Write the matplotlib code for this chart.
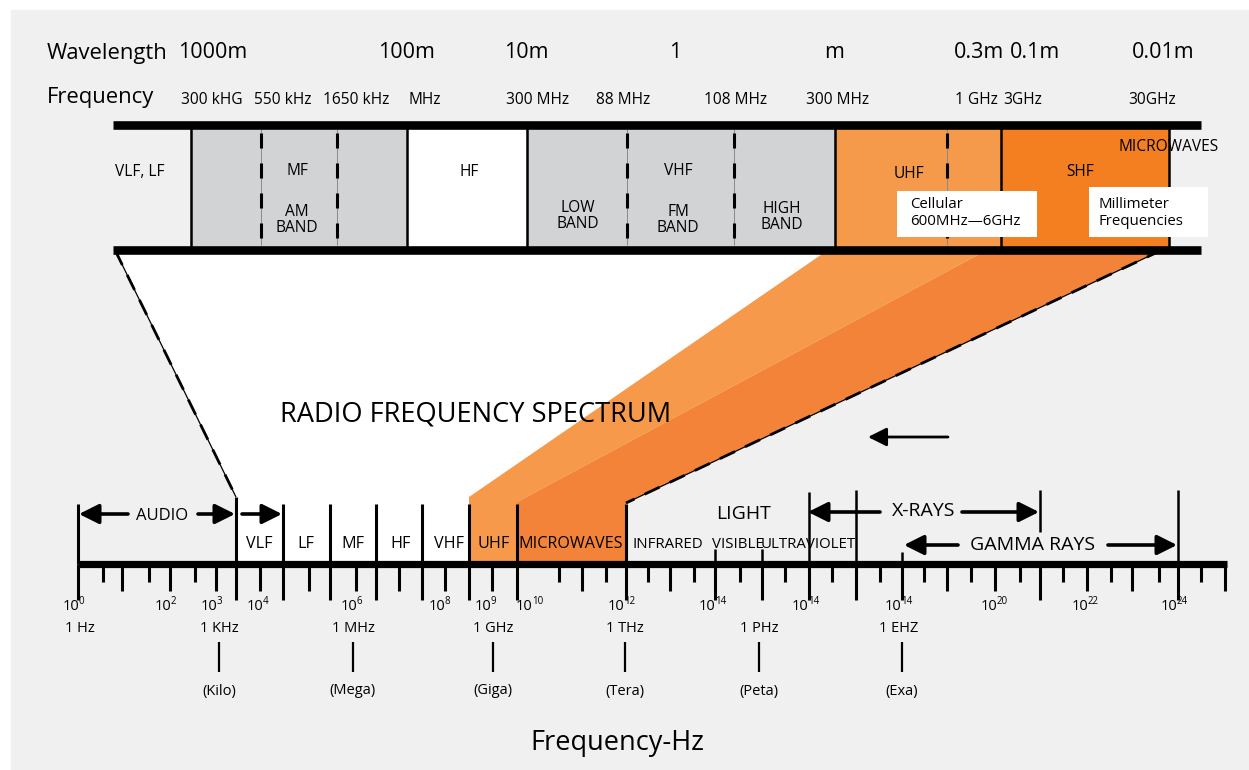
import matplotlib
matplotlib.use('Agg')
import matplotlib.pyplot as plt
from matplotlib.patches import Polygon, Rectangle

plt.rcParams['font.family'] = ['Open Sans', 'DejaVu Sans']
plt.rcParams['lines.scale_dashes'] = False
plt.rcParams['lines.solid_capstyle'] = 'butt'

# ---- data (diagram units, 1 unit ~ 1 px of the original) ----
wave_labels = ["1000m", "100m", "10m", "1", "m", "0.3m", "0.1m", "0.01m"]
wave_x = [213, 406, 526, 675, 834, 979, 1035, 1163]

freq_labels = ["300 kHG", "550 kHz", "1650 kHz", "MHz", "300 MHz", "88 MHz",
               "108 MHz", "300 MHz", "1 GHz", "3GHz", "30GHz"]
freq_x = [212, 283, 356, 425, 538, 623, 736, 838, 976, 1023, 1152]

# top band cells: (left, right, colour)
top_cells = [(191, 407, '#d1d3d4'), (407, 527, 'white'), (527, 835, '#d1d3d4'),
             (835, 1001, '#f5994b'), (1001, 1169, '#f47f20')]
top_edges = [191, 407, 527, 835, 1001, 1169]
top_dashed = [261, 337, 627, 734, 947]
top_texts = [("VLF, LF", 140, 172), ("MF", 297, 171), ("AM\nBAND", 297, 220),
             ("HF", 469, 172), ("LOW\nBAND", 578, 216), ("VHF", 678, 171),
             ("FM\nBAND", 678, 220), ("HIGH\nBAND", 782, 217), ("UHF", 909, 174),
             ("SHF", 1080, 172), ("MICROWAVES", 1169, 147)]

# bottom scale
band_edges = [78, 236, 283, 330, 376, 422, 469, 517, 626]
band_names = ["VLF", "LF", "MF", "HF", "VHF", "UHF", "MICROWAVES"]
band_name_x = [259, 306, 353, 401, 449, 494, 571]
spec_names = ["INFRARED", "VISIBLE", "ULTRAVIOLET"]
spec_x = [668, 738, 808]
long_ticks = [78, 236, 283, 330, 376, 422, 469, 517, 626, 715, 762, 809,
              856, 902, 1040, 1178]
mid_ticks = [122, 170, 216, 260, 309, 356, 399, 445, 492, 582, 670, 947,
             995, 1087, 1132, 1225]
short_ticks = [103, 149, 195, 559, 606, 648, 694, 740, 785, 832, 880, 924,
               971, 1020, 1063, 1111, 1159, 1201]

exp_labels = ["0", "2", "3", "4", "6", "8", "9", "10", "12", "14", "14", "14",
              "20", "22", "24"]
exp_x = [78, 170, 216, 262, 356, 444, 490, 531, 623, 714, 807, 900, 996,
         1087, 1176]
unit_labels = ["1 Hz", "1 KHz", "1 MHz", "1 GHz", "1 THz", "1 PHz", "1 EHZ"]
unit_x = [80, 219, 353, 493, 625, 759, 899]
prefix_labels = ["(Kilo)", "(Mega)", "(Giga)", "(Tera)", "(Peta)", "(Exa)"]
prefix_x = [219, 353, 493, 625, 759, 902]

BG = '#f0f0f0'

fig = plt.figure(figsize=(12.49, 7.70), dpi=100)
fig.patch.set_facecolor('white')
ax = fig.add_axes([0, 0, 1, 1])
ax.set_xlim(0, 1249)
ax.set_ylim(770, 0)
ax.axis('off')

ax.add_patch(Rectangle((11, 10), 1249, 770, color=BG, zorder=0))

# funnel
ax.add_patch(Polygon([(115, 250), (1162, 250), (626, 503), (626, 563),
                      (236, 563), (236, 497)], closed=True, color='white', lw=0, zorder=1))
ax.add_patch(Polygon([(828, 250), (987, 250), (517, 502), (517, 563),
                      (469, 563), (469, 497)], closed=True, color='#f6994b', lw=0, zorder=2))
ax.add_patch(Polygon([(987, 250), (1162, 250), (626, 503), (626, 563),
                      (517, 563), (517, 502)], closed=True, color='#f28339', lw=0, zorder=2))
for (x0, y0), (x1, y1) in [((115, 250), (236, 497)), ((1162, 250), (626, 503))]:
    ax.plot([x0, x1], [y0, y1], color='k', lw=0.9, zorder=3)
    ax.plot([x0, x1], [y0, y1], color='k', lw=2.0, dashes=(12, 8), zorder=3)

# top band
for l, r, c in top_cells:
    ax.add_patch(Rectangle((l, 125), r - l, 124, color=c, lw=0, zorder=3))
for x in top_edges:
    ax.plot([x, x], [125, 249], color='k', lw=1.8, zorder=4)
for x in top_dashed:
    ax.plot([x, x], [129, 245], color='#8a8a8a', lw=0.7, zorder=4)
    ax.plot([x, x], [133, 245], color='k', lw=2.2, dashes=(10.8, 10.8), zorder=5)
for y in [125, 249.5]:
    ax.plot([113, 1201], [y, y], color='k', lw=6.2, zorder=6)

ax.add_patch(Rectangle((897, 191), 140, 46, color='white', lw=0, zorder=7))
ax.add_patch(Rectangle((1089, 187), 119, 50, color='white', lw=0, zorder=7))
ax.text(910, 213, "Cellular\n600MHz\u20146GHz", fontsize=10.8, ha='left', va='center',
        linespacing=1.25, zorder=8)
ax.text(1099, 213, "Millimeter\nFrequencies", fontsize=10.8, ha='left', va='center',
        linespacing=1.25, zorder=8)
for t, x, y in top_texts:
    ax.text(x, y, t, fontsize=11.2, ha='center', va='center', linespacing=1.05, zorder=8)

# header rows
ax.text(47, 53, "Wavelength", fontsize=15.8, ha='left', va='center')
for t, x in zip(wave_labels, wave_x):
    ax.text(x, 53, t, fontsize=15.5, ha='center', va='center')
ax.text(47, 97, "Frequency", fontsize=15.8, ha='left', va='center')
for t, x in zip(freq_labels, freq_x):
    ax.text(x, 100, t, fontsize=11.2, ha='center', va='center')

ax.text(476, 415, "RADIO FREQUENCY SPECTRUM", fontsize=19.6, ha='center', va='center', zorder=8)
ax.annotate("", xy=(868, 437), xytext=(948, 437),
            arrowprops=dict(arrowstyle='-|>', lw=2.0, color='k', mutation_scale=28,
                            shrinkA=0, shrinkB=0), zorder=8)

# bottom scale
ax.plot([78, 1227], [564, 564], color='k', lw=5.2, zorder=6)
for x in long_ticks:
    ax.plot([x, x], [564, 600], color='k', lw=2.2, zorder=6)
for x in mid_ticks:
    ax.plot([x, x], [564, 591], color='k', lw=2.2, zorder=6)
for x in short_ticks:
    ax.plot([x, x], [564, 582], color='k', lw=2.2, zorder=6)
for x in band_edges:
    top = 497 if x == 236 else 504
    ax.plot([x, x], [top, 564], color='k', lw=2.2, zorder=6)
for x, top, bot in [(715, 549, 564), (762, 549, 564), (809, 492, 564),
                    (856, 490, 564), (902, 552, 564), (1040, 490, 532),
                    (1178, 490, 564)]:
    ax.plot([x, x], [top, bot], color='k', lw=1.8, zorder=6)

for t, x in zip(band_names, band_name_x):
    ax.text(x, 544, t, fontsize=11.6, ha='center', va='center', zorder=8)
for t, x in zip(spec_names, spec_x):
    ax.text(x, 545, t, fontsize=10.8, ha='center', va='center', zorder=8)

arrow = dict(arrowstyle='-|>', lw=2.6, color='k', mutation_scale=30, shrinkA=0, shrinkB=0)
ax.text(162, 516, "AUDIO", fontsize=12, ha='center', va='center', zorder=8)
for x0, x1, y in [(128, 79, 514), (198, 235, 514), (242, 282, 514),
                  (880, 808, 512), (962, 1039, 512), (958, 904, 545), (1108, 1177, 545)]:
    ax.annotate("", xy=(x1, y), xytext=(x0, y), arrowprops=arrow, zorder=8)
ax.text(744, 514, "LIGHT", fontsize=14, ha='center', va='center', zorder=8)
ax.text(924, 511, "X-RAYS", fontsize=14, ha='center', va='center', zorder=8)
ax.text(1033, 545, "GAMMA RAYS", fontsize=14, ha='center', va='center', zorder=8)

for e, x in zip(exp_labels, exp_x):
    ax.text(x + 1, 607, "10", fontsize=10.5, ha='right', va='center')
    ax.text(x + 1, 602, e, fontsize=7, ha='left', va='center')
for t, x in zip(unit_labels, unit_x):
    ax.text(x, 629, t, fontsize=10.5, ha='center', va='center')
for t, x in zip(prefix_labels, prefix_x):
    ax.plot([x, x], [642, 672], color='k', lw=1.6)
    ax.text(x, 691, t, fontsize=10.5, ha='center', va='center')

ax.text(617, 743, "Frequency-Hz", fontsize=19.5, ha='center', va='center')

fig.savefig('out.png', dpi=100, facecolor='white')
